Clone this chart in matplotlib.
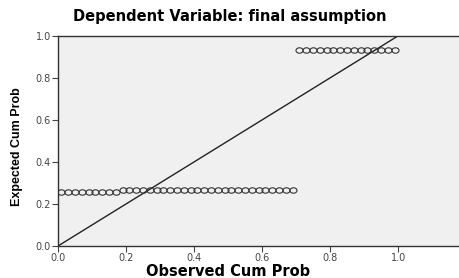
import matplotlib
matplotlib.use("Agg")
import matplotlib.pyplot as plt
from matplotlib.markers import MarkerStyle
from matplotlib.transforms import Affine2D
import numpy as np

plt.rcParams['font.family'] = ['Liberation Sans', 'DejaVu Sans']

# Observed cumulative probabilities (x) and expected cumulative probabilities (y)
obs_low1 = [0.01, 0.03, 0.05, 0.07, 0.09, 0.11, 0.13, 0.15, 0.17]
exp_low1 = [0.258] * len(obs_low1)
obs_low2 = [0.19, 0.21, 0.23, 0.25, 0.27, 0.29, 0.31, 0.33, 0.35, 0.37, 0.39, 0.41, 0.43,
            0.45, 0.47, 0.49, 0.51, 0.53, 0.55, 0.57, 0.59, 0.61, 0.63, 0.65, 0.67, 0.69]
exp_low2 = [0.265] * len(obs_low2)
obs_high = [0.71, 0.73, 0.75, 0.77, 0.79, 0.81, 0.83, 0.85, 0.87, 0.89, 0.91, 0.93, 0.95, 0.97, 0.99]
exp_high = [0.933] * len(obs_high)

obs = obs_low1 + obs_low2 + obs_high
exp = exp_low1 + exp_low2 + exp_high

ref_line = [0.0, 1.0]
xticks = [0.0, 0.2, 0.4, 0.6, 0.8, 1.0]
yticks = [0.0, 0.2, 0.4, 0.6, 0.8, 1.0]

fig = plt.figure(figsize=(4.6, 2.78), dpi=100)
ax = fig.add_axes([0.126, 0.115, 0.874, 0.756])
ax.set_facecolor('#f0f0f0')

ax.plot(ref_line, ref_line, color='#222222', lw=1.0, zorder=2)
ell = MarkerStyle('o', transform=Affine2D().scale(1.3, 1.0))
ax.plot(obs, exp, linestyle='none', marker=ell, markersize=3.9,
        markerfacecolor='none', markeredgecolor='#333333', markeredgewidth=0.8, zorder=3)

ax.set_xlim(0, 1.182)
ax.set_ylim(0, 1.0)
ax.set_xticks(xticks)
ax.set_yticks(yticks)
ax.set_xticklabels([f"{v:.1f}" for v in xticks], family='DejaVu Sans')
ax.set_yticklabels([f"{v:.1f}" for v in yticks], family='DejaVu Sans')
ax.tick_params(axis='both', direction='out', length=4, width=0.8, labelsize=7,
               colors='#444444', pad=1)

for s in ['left', 'bottom', 'top']:
    ax.spines[s].set_color('#333333')
    ax.spines[s].set_linewidth(1.0)
ax.spines['right'].set_visible(False)

fig.text(228 / 460, 1 - 271 / 278, 'Observed Cum Prob', ha='center', va='center',
         fontsize=10.5, fontweight='bold', family='DejaVu Sans')
fig.text(17 / 460, 1 - 147 / 278, 'Expected Cum Prob', ha='center', va='center',
         rotation=90, fontsize=9, fontweight='bold', family='Liberation Sans')
fig.text(0.5, 1 - 17 / 278, 'Dependent Variable: final assumption', ha='center', va='center',
         fontsize=10.5, fontweight='bold', family='DejaVu Sans')

fig.savefig('out.png', dpi=100)
